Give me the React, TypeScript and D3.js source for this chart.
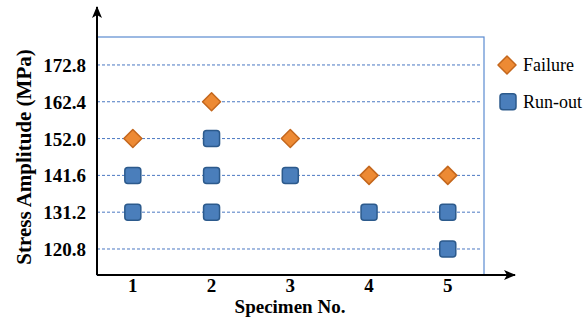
import * as d3 from "d3";

const specimens = [1, 2, 3, 4, 5];
const yTicks = [120.8, 131.2, 141.6, 152.0, 162.4, 172.8];

const failureX = [1, 2, 3, 4, 5];
const failureY = [152.0, 162.4, 152.0, 141.6, 141.6];

const runoutX = [1, 1, 2, 2, 2, 3, 4, 5, 5];
const runoutY = [141.6, 131.2, 152.0, 141.6, 131.2, 141.6, 131.2, 131.2, 120.8];

const width = 586;
const height = 323;
const left = 97;
const right = 484;
const top = 37;
const bottom = 275;

const font = "Liberation Serif";
const orange = "#ED8A34";
const orangeStroke = "#C4671D";
const blue = "#4A7EBB";
const blueStroke = "#2C5A8C";

const Diamond = ({ x, y }: { x: number; y: number }) => (
  <path
    d={`M${x},${y - 9}L${x + 9},${y}L${x},${y + 9}L${x - 9},${y}Z`}
    fill={orange}
    stroke={orangeStroke}
    strokeWidth={1.5}
    strokeLinejoin="round"
  />
);

const Square = ({ x, y }: { x: number; y: number }) => (
  <rect
    x={x - 8}
    y={y - 8}
    width={16}
    height={16}
    rx={3}
    fill={blue}
    stroke={blueStroke}
    strokeWidth={1.5}
  />
);

export default function App() {
  const x = d3.scaleLinear().domain([0.545, 5.46]).range([left, right]);
  const y = d3.scaleLinear().domain([113.45, 180.7]).range([bottom, top]);

  return (
    <svg
      width={width}
      height={height}
      style={{ position: "absolute", left: 0, top: 0, background: "#fff" }}
    >
      <defs>
        <marker
          id="arrow"
          viewBox="0 0 12 10"
          refX={11}
          refY={5}
          markerWidth={12}
          markerHeight={10}
          markerUnits="userSpaceOnUse"
          orient="auto"
        >
          <path d="M0,0L12,5L0,10L3,5Z" fill="#000" />
        </marker>
      </defs>

      {/* plot frame */}
      <rect
        x={left}
        y={top}
        width={right - left}
        height={bottom - top}
        fill="none"
        stroke="#5B8BD0"
        strokeWidth={1.2}
      />

      {/* dashed grid + y tick labels */}
      {yTicks.map((t) => (
        <g key={t}>
          <line
            x1={left}
            x2={right - 4}
            y1={y(t)}
            y2={y(t)}
            stroke="#4A78C2"
            strokeWidth={1}
            strokeDasharray="3,2"
          />
          <text
            x={86}
            y={y(t) + 7}
            textAnchor="end"
            fontSize={19}
            fontWeight="bold"
            fontFamily={font}
          >
            {t.toFixed(1)}
          </text>
        </g>
      ))}

      {/* axes with arrows */}
      <line x1={left} y1={bottom} x2={left} y2={7} stroke="#000" strokeWidth={2} markerEnd="url(#arrow)" />
      <line x1={left} y1={bottom} x2={515} y2={bottom} stroke="#000" strokeWidth={2} markerEnd="url(#arrow)" />

      {/* x tick labels */}
      {specimens.map((s) => (
        <text
          key={s}
          x={x(s)}
          y={292}
          textAnchor="middle"
          fontSize={19}
          fontWeight="bold"
          fontFamily={font}
        >
          {s}
        </text>
      ))}

      <text x={290} y={313} textAnchor="middle" fontSize={19} fontWeight="bold" fontFamily={font}>
        Specimen No.
      </text>
      <text
        transform={`translate(31,157) rotate(-90)`}
        textAnchor="middle"
        fontSize={21}
        fontWeight="bold"
        fontFamily={font}
      >
        Stress Amplitude (MPa)
      </text>

      {/* data */}
      {runoutX.map((d, i) => (
        <Square key={`r${i}`} x={x(d)} y={y(runoutY[i])} />
      ))}
      {failureX.map((d, i) => (
        <Diamond key={`f${i}`} x={x(d)} y={y(failureY[i])} />
      ))}

      {/* legend */}
      <Diamond x={507} y={y(172.8)} />
      <text x={523} y={y(172.8) + 6} fontSize={18} fontFamily={font}>
        Failure
      </text>
      <Square x={508} y={y(162.4)} />
      <text x={523} y={y(162.4) + 6} fontSize={18} fontFamily={font}>
        Run-out
      </text>
    </svg>
  );
}
